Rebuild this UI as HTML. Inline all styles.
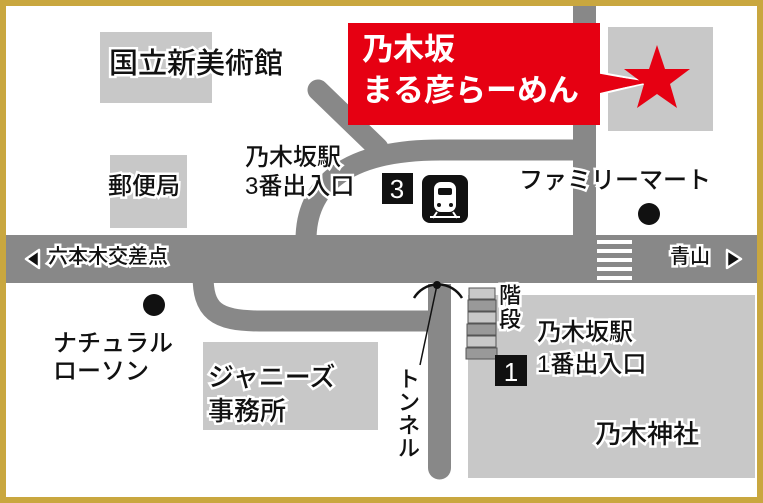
<!DOCTYPE html>
<html><head><meta charset="utf-8"><style>
html,body{margin:0;padding:0;}
body{width:763px;height:503px;position:relative;overflow:hidden;background:#fff;font-family:"Liberation Sans","Noto Sans CJK JP",sans-serif;}
.t{position:absolute;color:#111;white-space:nowrap;line-height:1.1;font-weight:500;-webkit-text-stroke:5px #fff;paint-order:stroke fill;}
</style></head><body>
<svg width="763" height="503" style="position:absolute;left:0;top:0">
<rect x="100" y="32" width="112" height="71" fill="#c8c8c8"/>
<rect x="110" y="155" width="77" height="73" fill="#c8c8c8"/>
<rect x="203" y="342" width="175" height="88" fill="#c8c8c8"/>
<rect x="468" y="295" width="287" height="183" fill="#c8c8c8"/>
<rect x="608" y="27" width="105" height="104" fill="#c8c8c8"/>
<g stroke="#888" fill="none" stroke-width="21">
<path d="M318 90 L378 148" stroke-linecap="round"/>
<path d="M306 240 C306 190 340 150 440 150 L585 150"/>
<path d="M203 275 C203 310 215 321 260 321 L440 321"/>
</g>
<rect x="573" y="6" width="23" height="235" fill="#888"/>
<rect x="6" y="235" width="751" height="48" fill="#888"/>
<path d="M428 284 H451 V468 A11.5 11.5 0 0 1 428 468 Z" fill="#888"/>
<g fill="#fff"><rect x="597" y="240" width="35" height="4"/><rect x="597" y="249" width="35" height="4"/><rect x="597" y="258" width="35" height="4"/><rect x="597" y="267" width="35" height="4"/><rect x="597" y="276" width="35" height="4"/></g>
<path d="M414 298 A28 28 0 0 1 462 298" stroke="#111" stroke-width="2.5" fill="none"/>
<circle cx="437" cy="285" r="4" fill="#111"/>
<line x1="437" y1="285" x2="420" y2="365" stroke="#111" stroke-width="1.5"/>
<g stroke="#555" stroke-width="1">
<rect x="469" y="288" width="26" height="11" fill="#c8c8c8"/>
<rect x="468" y="300" width="28" height="11" fill="#999"/>
<rect x="468" y="312" width="28" height="11" fill="#c8c8c8"/>
<rect x="467" y="324" width="29" height="11" fill="#999"/>
<rect x="467" y="336" width="29" height="11" fill="#c8c8c8"/>
<rect x="466" y="348" width="31" height="11" fill="#999"/>
</g>
<rect x="495" y="355" width="32" height="31" fill="#111"/>
<text x="511" y="381" font-size="26" fill="#fff" text-anchor="middle" font-family="Liberation Sans">1</text>
<rect x="382" y="173" width="31" height="31" fill="#111"/>
<text x="397" y="198" font-size="26" fill="#fff" text-anchor="middle" font-family="Liberation Sans">3</text>
<rect x="422" y="175" width="46" height="48" rx="8" fill="#111"/>
<rect x="434" y="182" width="22" height="30" rx="7" fill="#fff"/>
<rect x="438" y="188" width="14" height="7" rx="2" fill="#111"/>
<circle cx="439" cy="205" r="2" fill="#111"/><circle cx="451" cy="205" r="2" fill="#111"/>
<path d="M433 218 L437 212 M457 218 L453 212" stroke="#fff" stroke-width="2"/>
<line x1="430" y1="217" x2="460" y2="217" stroke="#fff" stroke-width="2"/>
<circle cx="154" cy="305" r="11" fill="#111"/>
<circle cx="649" cy="214" r="11" fill="#111"/>
<polygon points="596,72 596,95 651,82" fill="#e60012" stroke="#fff" stroke-width="2"/>
<rect x="348" y="23" width="252" height="102" fill="#e60012"/>
<polygon points="596,74 596,93 650,82" fill="#e60012"/>
<polygon points="657,45 665,69 690,69 670,84 677,108 657,94 637,108 644,84 624,69 649,69" fill="#e60012"/>
<polygon points="26,259 39,250 39,268" fill="#111" stroke="#fff" stroke-width="2.5" stroke-linejoin="round"/>
<polygon points="741,259 727,250 727,268" fill="#111" stroke="#fff" stroke-width="2.5" stroke-linejoin="round"/>
<rect x="3" y="3" width="757" height="497" fill="none" stroke="#c9a73f" stroke-width="6"/>
</svg>
<div class="t" style="left:362px;top:33px;font-size:31px;font-weight:bold;color:#fff;-webkit-text-stroke:0">乃木坂</div>
<div class="t" style="left:362px;top:74px;font-size:31px;font-weight:bold;color:#fff;-webkit-text-stroke:0">まる彦らーめん</div>
<div class="t" style="left:109px;top:49px;font-size:29px">国立新美術館</div>
<div class="t" style="left:108px;top:174px;font-size:24px">郵便局</div>
<div class="t" style="left:245px;top:145px;font-size:24px">乃木坂駅</div>
<div class="t" style="left:245px;top:174px;font-size:24px">3番出入口</div>
<div class="t" style="left:519px;top:168px;font-size:24px">ファミリーマート</div>
<div class="t" style="left:48px;top:246px;font-size:20px">六本木交差点</div>
<div class="t" style="left:670px;top:246px;font-size:20px">青山</div>
<div class="t" style="left:53px;top:330px;font-size:24px;line-height:28px">ナチュラル<br>ローソン</div>
<div class="t" style="left:208px;top:360px;font-size:26px;line-height:34px">ジャニーズ<br>事務所</div>
<div class="t" style="left:499px;top:284px;font-size:22px;line-height:24px">階<br>段</div>
<div class="t" style="left:537px;top:320px;font-size:24px">乃木坂駅</div>
<div class="t" style="left:537px;top:352px;font-size:24px">1番出入口</div>
<div class="t" style="left:595px;top:420px;font-size:26px">乃木神社</div>
<div class="t" style="left:398px;top:368px;font-size:22px;line-height:23px;width:24px;white-space:normal">ト<br>ン<br>ネ<br>ル</div>
</body></html>
